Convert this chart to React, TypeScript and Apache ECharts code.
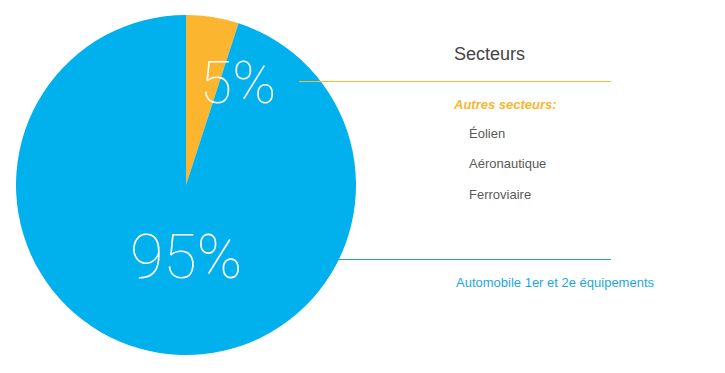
import React, { useEffect, useRef } from "react";
import * as echarts from "echarts";

const categories = ["Autres secteurs", "Automobile 1er et 2e équipements"];
const values = [5, 95];
const colors = ["#fbb52f", "#00b1ee"];
const otherSectors = ["Éolien", "Aéronautique", "Ferroviaire"];
const legendTitle = "Secteurs";

export default function App() {
  const ref = useRef<HTMLDivElement>(null);
  useEffect(() => {
    if (!ref.current) return;
    const chart = echarts.init(ref.current, undefined, { renderer: "svg" });
    const total = values.reduce((a, b) => a + b, 0);
    const pct = values.map((v) => Math.round((v / total) * 100) + "%");
    const font = "Liberation Sans, Arial, sans-serif";
    chart.setOption({
      animation: false,
      series: [
        {
          type: "pie",
          center: [186, 185],
          radius: [0, 170],
          startAngle: 90,
          clockwise: true,
          label: { show: false },
          labelLine: { show: false },
          emphasis: { disabled: true },
          itemStyle: { borderWidth: 0 },
          data: categories.map((c, i) => ({
            name: c,
            value: values[i],
            itemStyle: { color: colors[i] },
          })),
        },
      ],
      graphic: [
        {
          type: "text",
          x: 238,
          y: 82,
          z: 10,
          style: {
            text: pct[0],
            fill: "#fff",
            font: "100 59px Roboto, sans-serif",
            textAlign: "center",
            textVerticalAlign: "middle",
          },
        },
        {
          type: "text",
          x: 186,
          y: 257,
          z: 10,
          style: {
            text: pct[1],
            fill: "#fff",
            font: "100 61px Roboto, sans-serif",
            textAlign: "center",
            textVerticalAlign: "middle",
          },
        },
        {
          type: "line",
          z: 10,
          shape: { x1: 299, y1: 81.5, x2: 611, y2: 81.5 },
          style: { stroke: colors[0], lineWidth: 1 },
        },
        {
          type: "line",
          z: 10,
          shape: { x1: 338, y1: 259.5, x2: 611, y2: 259.5 },
          style: { stroke: "#1aa3dd", lineWidth: 1 },
        },
        {
          type: "text",
          x: 454,
          y: 54,
          style: {
            text: legendTitle,
            fill: "#444",
            font: `18px ${font}`,
            textVerticalAlign: "middle",
          },
        },
        {
          type: "text",
          x: 454,
          y: 104,
          style: {
            text: categories[0] + ":",
            fill: colors[0],
            font: `italic bold 13px ${font}`,
            textVerticalAlign: "middle",
          },
        },
        ...otherSectors.map((s, i) => ({
          type: "text",
          x: 469,
          y: 133 + i * 30.5,
          style: {
            text: s,
            fill: "#5a5a5a",
            font: `13px ${font}`,
            textVerticalAlign: "middle",
          },
        })),
        {
          type: "text",
          x: 456,
          y: 282,
          style: {
            text: categories[1],
            fill: "#1aa7e0",
            font: `13px ${font}`,
            textVerticalAlign: "middle",
          },
        },
      ],
    });
    return () => chart.dispose();
  }, []);
  return (
    <div
      ref={ref}
      style={{ position: "absolute", left: 0, top: 0, width: 725, height: 373, background: "#fff" }}
    />
  );
}
